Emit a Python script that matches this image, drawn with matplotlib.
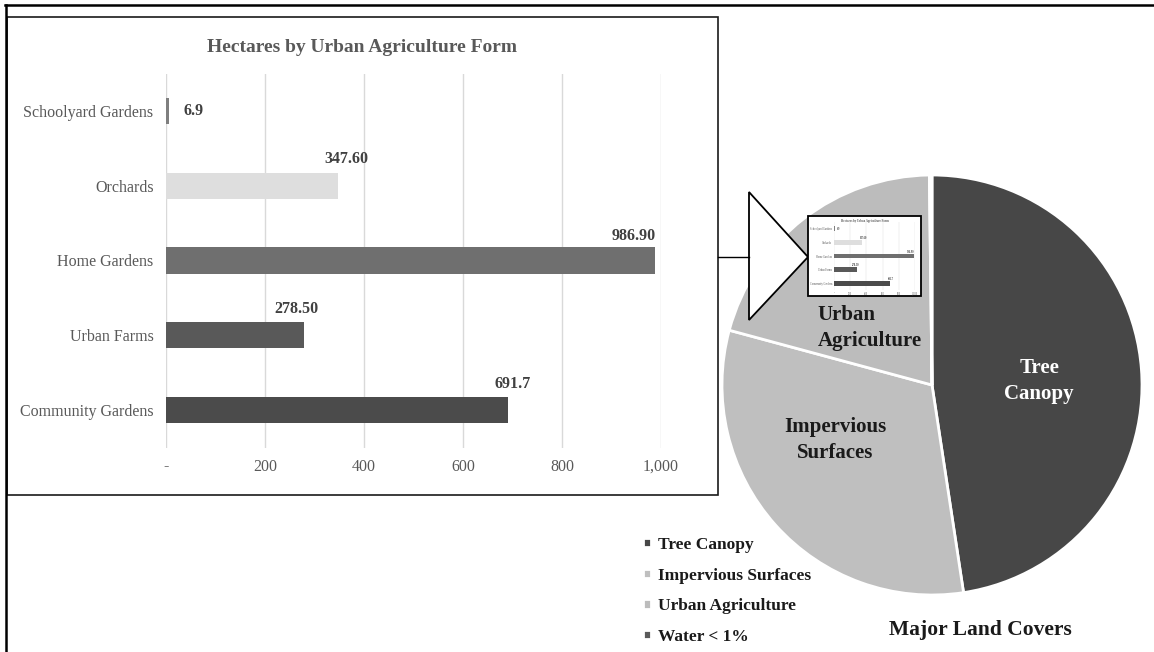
import matplotlib
matplotlib.use('Agg')
import matplotlib.pyplot as plt
from matplotlib.patches import Polygon, Rectangle

plt.rcParams['font.family'] = 'Liberation Serif'

# bar chart data, listed top to bottom as in the picture
forms = ['Schoolyard Gardens', 'Orchards', 'Home Gardens', 'Urban Farms', 'Community Gardens']
hectares = [6.9, 347.60, 986.90, 278.50, 691.7]
value_labels = ['6.9', '347.60', '986.90', '278.50', '691.7']
bar_colors = ['#7f7f7f', '#dedede', '#6f6f6f', '#595959', '#4b4b4b']
xticks = [0, 200, 400, 600, 800, 1000]
xtick_labels = ['-', '200', '400', '600', '800', '1,000']

# pie data
covers = ['Tree Canopy', 'Impervious Surfaces', 'Urban Agriculture', 'Water < 1%']
cover_share = [47.6, 31.6, 20.6, 0.2]
cover_colors = ['#474747', '#bfbfbf', '#bcbcbc', '#5a5a5a']

W, H = 1154, 652
fig = plt.figure(figsize=(W / 100, H / 100), dpi=100)


def box(x0, y0, x1, y1):
    # pixel box (top-left origin) -> figure fraction rect
    return [x0 / W, 1 - y1 / H, (x1 - x0) / W, (y1 - y0) / H]


def draw_bars(ax, s=1.0):
    pos = list(range(len(forms)))[::-1]
    ax.barh(pos, hectares, height=0.35, color=bar_colors, zorder=2)
    ax.set_xlim(0, 1000)
    ax.set_ylim(-0.5, len(forms) - 0.5)
    ax.set_xticks(xticks)
    ax.set_xticklabels(xtick_labels)
    ax.set_yticks(pos)
    ax.set_yticklabels(forms)
    ax.xaxis.grid(True, color='#d9d9d9', linewidth=max(1.0 * s, 0.3))
    ax.set_axisbelow(True)
    for sp in ax.spines.values():
        sp.set_visible(False)
    ax.tick_params(length=0, colors='#595959', labelsize=11.5 * s)
    ax.tick_params(axis='x', pad=8 * s)
    ax.tick_params(axis='y', pad=9 * s)
    ax.set_facecolor('none')
    # value labels, hand placed like in the original
    dx = [10, 6, -15, -5, 3]
    dy = [0, 19, 18, 19, 19]
    for i, (p, v, lab) in enumerate(zip(pos, hectares, value_labels)):
        ax.annotate(lab, (v, p), xytext=(dx[i] * s, dy[i] * s), textcoords='offset points',
                    ha='left' if i == 0 else 'center', va='center',
                    fontsize=11.5 * s, fontweight='bold', color='#404040')


# background frame
bg = fig.add_axes([0, 0, 1, 1], zorder=0)
bg.set_xlim(0, W)
bg.set_ylim(H, 0)
bg.axis('off')
bg.plot([5, W], [5, 5], color='black', lw=1.8)
bg.plot([6, 6], [5, H], color='black', lw=1.8)
bg.add_patch(Rectangle((7, 17), 711, 478, fill=False, edgecolor='#1a1a1a', lw=1.2))
bg.text(362, 47, 'Hectares by Urban Agriculture Form', ha='center', va='center',
        fontsize=14, fontweight='bold', color='#595959')

# main bar chart
ax = fig.add_axes(box(166, 73.5, 661, 447.5), zorder=1)
draw_bars(ax)

# pie of major land covers
pax = fig.add_axes(box(722, 175, 1142, 595), zorder=1)
wedges, _ = pax.pie(cover_share, colors=cover_colors, startangle=90, counterclock=False,
                    wedgeprops=dict(edgecolor='white', linewidth=2))
pax.set_xlim(-1, 1)
pax.set_ylim(-1, 1)
pax.text(0.51, 0.02, 'Tree\nCanopy', ha='center', va='center', color='white',
         fontsize=15, fontweight='bold', linespacing=1.4)
pax.text(-0.46, -0.26, 'Impervious\nSurfaces', ha='center', va='center', color='#1a1a1a',
         fontsize=15, fontweight='bold', linespacing=1.4)
pax.text(-0.545, 0.27, 'Urban\nAgriculture', ha='left', va='center', color='#1a1a1a',
         fontsize=15, fontweight='bold', linespacing=1.4)

fig.legend(wedges, covers, loc='upper left', bbox_to_anchor=(643 / W, 1 - 537 / H),
           frameon=False, borderpad=0, borderaxespad=0, handlelength=0.45, handleheight=0.45,
           handletextpad=0.4, labelspacing=0.84,
           prop=dict(family='Liberation Serif', weight='bold', size=12.5), labelcolor='#1a1a1a')
bg.text(980, 630, 'Major Land Covers', ha='center', va='center', fontsize=15.5,
        fontweight='bold', color='#1a1a1a')

# callout arrow with the small copy of the bar chart
top = fig.add_axes([0, 0, 1, 1], zorder=2)
top.set_xlim(0, W)
top.set_ylim(H, 0)
top.axis('off')
top.plot([718, 749], [257, 257], color='black', lw=1.0)
top.add_patch(Polygon([(749, 192), (749, 320), (808, 257)], closed=True, facecolor='white',
                      edgecolor='black', lw=1.3))
top.add_patch(Rectangle((808, 216), 113, 80, facecolor='white', edgecolor='black', lw=1.3))
s = (915 - 834) / (661 - 166)
top.text(864.5, 221, 'Hectares by Urban Agriculture Form', ha='center', va='center',
         fontsize=13.5 * s, fontweight='bold', color='#595959')
mini = fig.add_axes(box(834, 222, 915, 290), zorder=3)
draw_bars(mini, s)

fig.savefig('out.png', dpi=100)
